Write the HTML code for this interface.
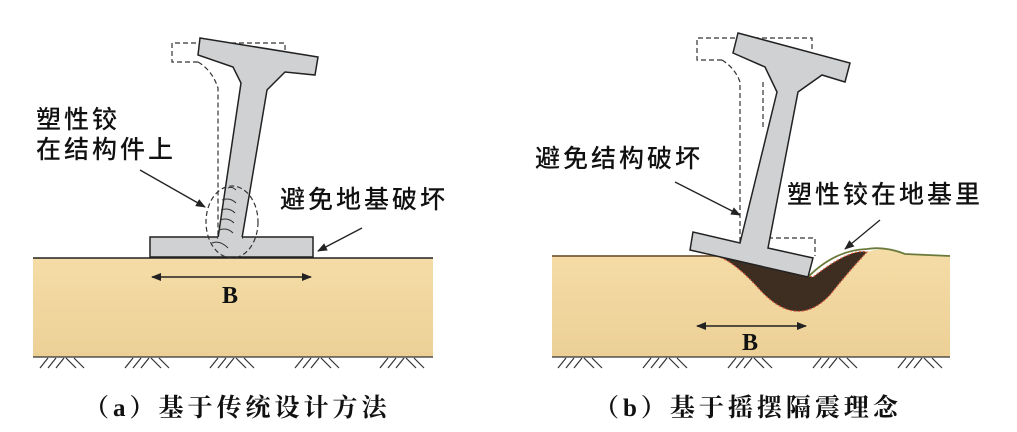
<!DOCTYPE html>
<html><head><meta charset="utf-8"><style>
html,body{margin:0;padding:0;background:#fff;}
svg{display:block}
.t{font-family:"Liberation Sans","Noto Sans CJK SC",sans-serif;font-size:25px;font-weight:500;fill:#111;letter-spacing:3px}
.c{font-family:"Liberation Serif","Noto Serif CJK SC",serif;font-size:25px;font-weight:bold;fill:#111;letter-spacing:4px}
.b{font-family:"Liberation Serif",serif;font-size:24px;font-weight:bold;fill:#111}
</style></head><body>
<svg width="1017" height="432" viewBox="0 0 1017 432" xmlns="http://www.w3.org/2000/svg">
<defs>
<marker id="ah" markerWidth="10" markerHeight="8" refX="9" refY="4" orient="auto" markerUnits="userSpaceOnUse"><path d="M0,0 L10,4 L0,8 Z" fill="#222"/></marker>
<marker id="ahs" markerWidth="10" markerHeight="8" refX="1" refY="4" orient="auto" markerUnits="userSpaceOnUse"><path d="M10,0 L0,4 L10,8 Z" fill="#222"/></marker>
<linearGradient id="soil" x1="0" y1="0" x2="0" y2="1"><stop offset="0" stop-color="#f5dca6"/><stop offset="1" stop-color="#ecd096"/></linearGradient>
<g id="hatch" stroke="#333" stroke-width="1.2">
<line x1="0" y1="368" x2="8" y2="358"/><line x1="8" y1="368" x2="16" y2="358"/><line x1="16" y1="368" x2="24" y2="358"/><line x1="26" y1="358" x2="36" y2="368"/><line x1="34" y1="358" x2="44" y2="368"/>
</g>
</defs>
<!-- LEFT PANEL -->
<rect x="33" y="258" width="400" height="99" fill="url(#soil)"/>
<line x1="33" y1="258" x2="433" y2="258" stroke="#222" stroke-width="1.5"/>
<line x1="33" y1="357" x2="433" y2="357" stroke="#333" stroke-width="1.2"/>
<use href="#hatch" x="40"/><use href="#hatch" x="125"/><use href="#hatch" x="210"/><use href="#hatch" x="295"/><use href="#hatch" x="380"/>
<path d="M198,62 L172,62 L172,43 L285,43 L285,52 M198,62 Q212,70 218,88 L218,238" fill="none" stroke="#333" stroke-width="1.2" stroke-dasharray="5,3"/>
<rect x="150" y="237" width="163" height="20" fill="#d0d1d3" stroke="#222" stroke-width="1.5"/>
<path d="M200,38 L318,57 L315,75 L285,72 L267,90 L242,238 L218,238 L241,83 L233,67 L198,55 Z" fill="#d0d1d3" stroke="#222" stroke-width="1.5"/>
<path d="M218,238 L242,238" stroke="#d0d1d3" stroke-width="2"/>
<g stroke="#333" stroke-width="1" fill="none"><path d="M222,200 q8,-3 14,3 M221,210 q8,-3 14,3 M220,220 q8,-3 14,3 M219,230 q8,-3 14,3 M212,243 q8,-3 16,5 M228,188 q4,-2 8,2"/></g>
<ellipse cx="232" cy="222" rx="26" ry="36" fill="none" stroke="#333" stroke-width="1.2" stroke-dasharray="5,3"/>
<text class="t" x="36" y="128">塑性铰</text>
<text class="t" x="36" y="158">在结构件上</text>
<line x1="140" y1="170" x2="205" y2="207" stroke="#222" stroke-width="1.3" marker-end="url(#ah)"/>
<text class="t" x="280" y="208">避免地基破坏</text>
<line x1="362" y1="228" x2="318" y2="251" stroke="#222" stroke-width="1.3" marker-end="url(#ah)"/>
<line x1="152" y1="277" x2="311" y2="277" stroke="#222" stroke-width="1.5" marker-start="url(#ahs)" marker-end="url(#ah)"/>
<text class="b" x="222" y="303">B</text>
<text class="c" x="84" y="416">（a）基于传统设计方法</text>

<!-- RIGHT PANEL -->
<path d="M552,256 L717,256 Q735,262 760,290 Q797,330 830,295 Q850,270 867,252 Q885,246 905,254 L950,256 L950,357 L552,357 Z" fill="url(#soil)"/>
<path d="M717,256 Q735,262 760,290 Q797,330 830,295 Q850,270 867,252 Q850,248 813,277 Z" fill="#3e2e22" stroke="#e05a3a" stroke-width="1.2" stroke-dasharray="2,2"/>
<path d="M552,256 L717,256" stroke="#7a5a3a" stroke-width="1.8" fill="none"/>
<path d="M808,277 Q835,250 867,249 Q885,246 905,254 L950,256" stroke="#6a7a3a" stroke-width="1.8" fill="none"/>
<line x1="552" y1="357" x2="950" y2="357" stroke="#333" stroke-width="1.2"/>
<use href="#hatch" x="558"/><use href="#hatch" x="643"/><use href="#hatch" x="728"/><use href="#hatch" x="813"/><use href="#hatch" x="898"/>
<path d="M722,60 L697,60 L697,38 L812,38 L812,50 M722,60 Q735,68 740,82 L740,243 M763,82 L763,130 M768,238 L815,238 L815,256" fill="none" stroke="#333" stroke-width="1.2" stroke-dasharray="5,3"/>
<path d="M738,33 L850,63 L845,82 L822,75 L798,92 L768,248 L813,258 L808,277 L690,250 L693,232 L740,243 L777,92 L765,67 L733,53 Z" fill="#d0d1d3" stroke="#222" stroke-width="1.5"/>
<text class="t" x="535" y="167">避免结构破坏</text>
<line x1="675" y1="182" x2="740" y2="215" stroke="#222" stroke-width="1.3" marker-end="url(#ah)"/>
<text class="t" x="787" y="203">塑性铰在地基里</text>
<line x1="880" y1="220" x2="845" y2="249" stroke="#222" stroke-width="1.3" marker-end="url(#ah)"/>
<line x1="697" y1="326" x2="806" y2="326" stroke="#222" stroke-width="1.5" marker-start="url(#ahs)" marker-end="url(#ah)"/>
<text class="b" x="742" y="350">B</text>
<text class="c" x="594" y="416">（b）基于摇摆隔震理念</text>
</svg>
</body></html>
